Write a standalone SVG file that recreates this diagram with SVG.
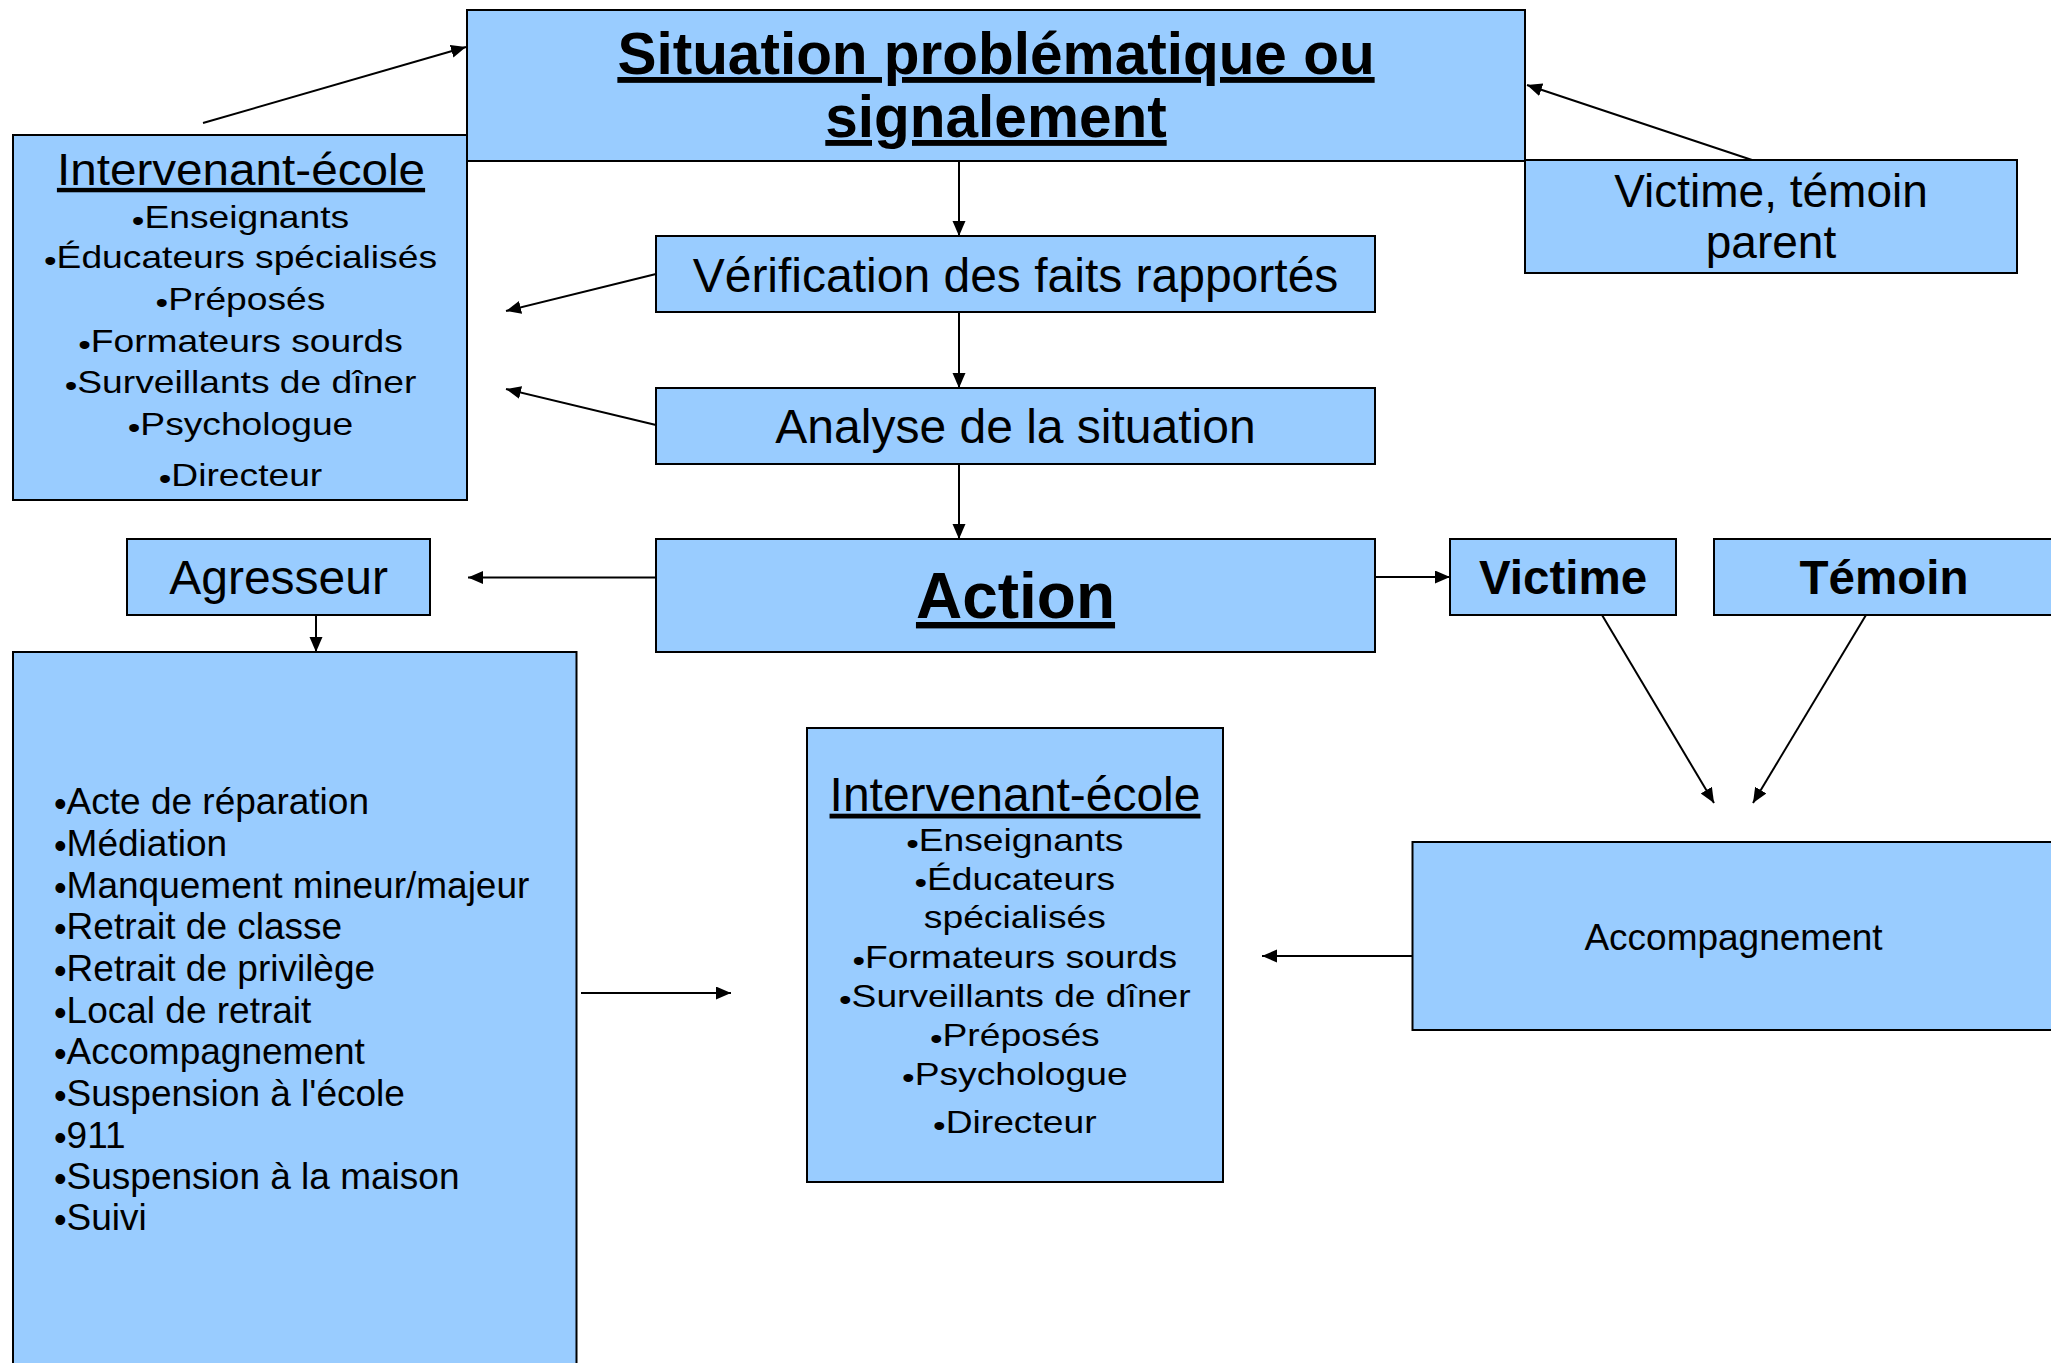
<svg xmlns="http://www.w3.org/2000/svg" width="2051" height="1363" viewBox="0 0 2051 1363">
<defs>
<marker id="ah" markerUnits="userSpaceOnUse" markerWidth="16" markerHeight="14" refX="15" refY="6.5" orient="auto"><path d="M0,0 L15,6.5 L0,13 z" fill="#000"/></marker>
<style>
.box{fill:#99ccff;stroke:#000;stroke-width:2}
text{font-family:"Liberation Sans",Arial,sans-serif;fill:#000}
.c{text-anchor:middle}
.u{text-decoration:underline}
.b{font-weight:bold}
.l31{font-size:31px;text-anchor:middle}
.bul{font-size:30px}
.bul2{font-size:36px}
.conn line{stroke:#000;stroke-width:2;marker-end:url(#ah)}
</style>
</defs>
<rect width="2051" height="1363" fill="#fff"/>
<g id="connectors" class="conn">
<line x1="203" y1="123" x2="466" y2="47"/>
<line x1="1752" y1="160" x2="1527" y2="85"/>
<line x1="959" y1="161" x2="959" y2="236"/>
<line x1="959" y1="312" x2="959" y2="388"/>
<line x1="959" y1="464" x2="959" y2="539"/>
<line x1="656" y1="274" x2="506" y2="311"/>
<line x1="656" y1="425" x2="506" y2="389"/>
<line x1="656" y1="577.5" x2="468" y2="577.5"/>
<line x1="1375" y1="577" x2="1450" y2="577"/>
<line x1="316" y1="615" x2="316" y2="652"/>
<line x1="1602" y1="615" x2="1714" y2="803"/>
<line x1="1866" y1="615" x2="1753" y2="803"/>
<line x1="581" y1="993" x2="731" y2="993"/>
<line x1="1412" y1="956" x2="1262" y2="956"/>
</g>
<g id="node-situation">
<rect class="box" x="467" y="10" width="1058" height="151"/>
<text class="c u b" x="996" y="74" font-size="58.5">Situation problématique ou</text>
<text class="c u b" x="996" y="137" font-size="58.5">signalement</text>
</g>
<g id="node-intervenant-haut">
<rect class="box" x="13" y="135" width="454" height="365"/>
<text class="c u" transform="translate(241,0) scale(1.083,1)" x="0" y="185" font-size="44">Intervenant-école</text>
<g class="l31" transform="translate(240.5,0) scale(1.2,1)">
<text x="0" y="227.7"><tspan class="bul" dy="3">•</tspan><tspan dy="-3">Enseignants</tspan></text>
<text x="0" y="268.3"><tspan class="bul" dy="3">•</tspan><tspan dy="-3">Éducateurs spécialisés</tspan></text>
<text x="0" y="310"><tspan class="bul" dy="3">•</tspan><tspan dy="-3">Préposés</tspan></text>
<text x="0" y="351.7"><tspan class="bul" dy="3">•</tspan><tspan dy="-3">Formateurs sourds</tspan></text>
<text x="0" y="393.3"><tspan class="bul" dy="3">•</tspan><tspan dy="-3">Surveillants de dîner</tspan></text>
<text x="0" y="435"><tspan class="bul" dy="3">•</tspan><tspan dy="-3">Psychologue</tspan></text>
<text x="0" y="486"><tspan class="bul" dy="3">•</tspan><tspan dy="-3">Directeur</tspan></text>
</g>
</g>
<g id="node-victime-temoin-parent">
<rect class="box" x="1525" y="160" width="492" height="113"/>
<text class="c" x="1771" y="206.7" font-size="46">Victime, témoin</text>
<text class="c" x="1771" y="258.3" font-size="46">parent</text>
</g>
<g id="node-verification">
<rect class="box" x="656" y="236" width="719" height="76"/>
<text class="c" x="1015.5" y="291.7" font-size="48">Vérification des faits rapportés</text>
</g>
<g id="node-analyse">
<rect class="box" x="656" y="388" width="719" height="76"/>
<text class="c" x="1015.5" y="443" font-size="48">Analyse de la situation</text>
</g>
<g id="node-action">
<rect class="box" x="656" y="539" width="719" height="113"/>
<text class="c u b" x="1015.5" y="618" font-size="64">Action</text>
</g>
<g id="node-agresseur">
<rect class="box" x="127" y="539" width="303" height="76"/>
<text class="c" x="278.6" y="593.7" font-size="48">Agresseur</text>
</g>
<g id="node-victime">
<rect class="box" x="1450" y="539" width="226" height="76"/>
<text class="c b" x="1563" y="594" font-size="47.5">Victime</text>
</g>
<g id="node-temoin">
<rect class="box" x="1714" y="539" width="345" height="76"/>
<text class="c b" x="1884" y="594" font-size="47.5">Témoin</text>
</g>
<g id="node-mesures" font-size="37">
<rect class="box" x="13" y="652" width="563.5" height="720"/>
<text x="54" y="814"><tspan class="bul2" dy="2">•</tspan><tspan dy="-2">Acte de réparation</tspan></text>
<text x="54" y="856"><tspan class="bul2" dy="2">•</tspan><tspan dy="-2">Médiation</tspan></text>
<text x="54" y="897.5"><tspan class="bul2" dy="2">•</tspan><tspan dy="-2">Manquement mineur/majeur</tspan></text>
<text x="54" y="939"><tspan class="bul2" dy="2">•</tspan><tspan dy="-2">Retrait de classe</tspan></text>
<text x="54" y="981"><tspan class="bul2" dy="2">•</tspan><tspan dy="-2">Retrait de privilège</tspan></text>
<text x="54" y="1022.5"><tspan class="bul2" dy="2">•</tspan><tspan dy="-2">Local de retrait</tspan></text>
<text x="54" y="1064"><tspan class="bul2" dy="2">•</tspan><tspan dy="-2">Accompagnement</tspan></text>
<text x="54" y="1106"><tspan class="bul2" dy="2">•</tspan><tspan dy="-2">Suspension à l'école</tspan></text>
<text x="54" y="1147.5"><tspan class="bul2" dy="2">•</tspan><tspan dy="-2">911</tspan></text>
<text x="54" y="1189"><tspan class="bul2" dy="2">•</tspan><tspan dy="-2">Suspension à la maison</tspan></text>
<text x="54" y="1230"><tspan class="bul2" dy="2">•</tspan><tspan dy="-2">Suivi</tspan></text>
</g>
<g id="node-intervenant-bas">
<rect class="box" x="807" y="728" width="416" height="454"/>
<text class="c u" x="1015" y="810.7" font-size="48">Intervenant-école</text>
<g class="l31" transform="translate(1014.8,0) scale(1.2,1)">
<text x="0" y="851"><tspan class="bul" dy="3">•</tspan><tspan dy="-3">Enseignants</tspan></text>
<text x="0" y="890"><tspan class="bul" dy="3">•</tspan><tspan dy="-3">Éducateurs</tspan></text>
<text x="0" y="928.3">spécialisés</text>
<text x="0" y="968.3"><tspan class="bul" dy="3">•</tspan><tspan dy="-3">Formateurs sourds</tspan></text>
<text x="0" y="1006.7"><tspan class="bul" dy="3">•</tspan><tspan dy="-3">Surveillants de dîner</tspan></text>
<text x="0" y="1046"><tspan class="bul" dy="3">•</tspan><tspan dy="-3">Préposés</tspan></text>
<text x="0" y="1085"><tspan class="bul" dy="3">•</tspan><tspan dy="-3">Psychologue</tspan></text>
<text x="0" y="1132.7"><tspan class="bul" dy="3">•</tspan><tspan dy="-3">Directeur</tspan></text>
</g>
</g>
<g id="node-accompagnement">
<rect class="box" x="1412.5" y="842" width="650" height="188"/>
<text class="c" x="1733.5" y="950" font-size="37">Accompagnement</text>
</g>
</svg>
